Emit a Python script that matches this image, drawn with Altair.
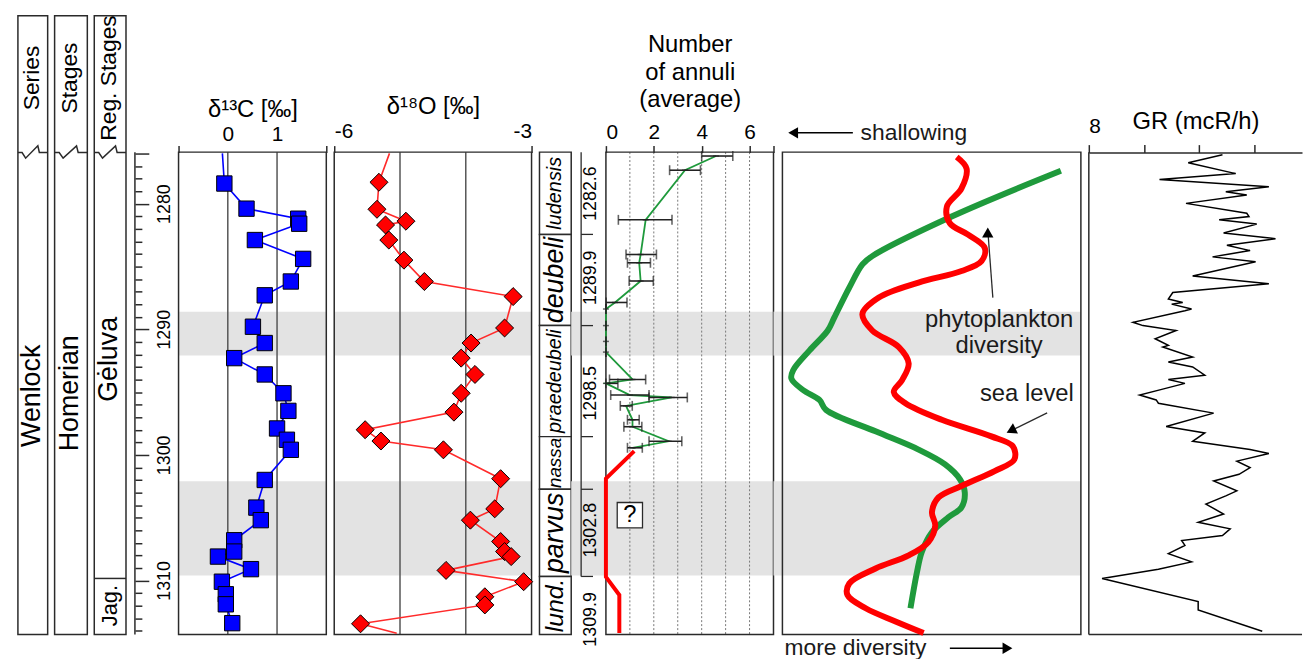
import altair as alt
import pandas as pd

# ------------------------------------------------------------------ data
DEPTH_TICKS = list(range(1276, 1315))

COLUMN_HEADERS = ["Series", "Stages", "Reg. Stages"]
COLUMN_UNITS = ["Wenlock", "Homerian", "Gėluva"]
COLUMN_UNIT_DEPTH = [1295.3, 1295.1, 1292.4]
HEADER_DEPTH = 1270.0
JAG_LABEL = "Jag."
JAG_TOP = 1309.84
JAG_LABEL_DEPTH = 1312.0

BAND_TOP = [1288.6, 1302.1]
BAND_BOTTOM = [1292.1, 1309.6]

C13_DEPTH = [1278.4, 1280.4, 1281.2, 1281.6, 1282.9, 1284.4, 1286.2, 1287.3, 1289.8, 1291.1,
             1292.3, 1293.6, 1295.1, 1296.5, 1297.9, 1298.8, 1299.6, 1302.0, 1304.2, 1305.2,
             1306.8, 1307.7, 1308.1, 1309.1, 1310.1, 1311.1, 1311.9, 1313.4]
C13_VALUE = [-0.07, 0.38, 1.43, 1.45, 0.55, 1.53, 1.28, 0.75, 0.51, 0.75,
             0.13, 0.75, 1.13, 1.23, 1.0, 1.2, 1.28, 0.75, 0.58, 0.67,
             0.13, 0.13, -0.2, 0.47, -0.12, -0.04, -0.04, 0.09]
C13_TRACE_START = (-0.11, 1276.0)

O18_DEPTH = [1278.3, 1280.45, 1281.4, 1281.7, 1282.9, 1284.5, 1286.2, 1287.4, 1289.9, 1291.1,
             1292.3, 1293.6, 1295.1, 1296.6, 1298.0, 1298.9, 1299.6, 1301.9, 1304.3, 1305.2,
             1306.9, 1307.7, 1308.1, 1309.2, 1310.1, 1311.3, 1311.95, 1313.45]
O18_VALUE = [-5.32, -5.35, -4.91, -5.22, -5.17, -4.94, -4.63, -3.28, -3.41, -3.92,
             -4.07, -3.86, -4.07, -4.18, -5.53, -5.29, -4.34, -3.47, -3.56, -3.93,
             -3.47, -3.41, -3.31, -4.30, -3.12, -3.71, -3.71, -5.60]
O18_TRACE_START = (-5.16, 1276.0)
O18_TRACE_END = (-5.05, 1314.2)

ZONES = ["ludensis", "deubeli", "praedeubeli", "nassa", "parvus", "lund."]
ZONE_TOP = [1275.9, 1282.45, 1289.71, 1298.55, 1302.74, 1309.68]
ZONE_BOTTOM = [1282.45, 1289.71, 1298.55, 1302.74, 1309.68, 1314.3]
ZONE_FONT = [20, 27, 20, 19, 27, 25]

BOUNDARY_LABELS = ["1282.6", "1289.9", "1298.5", "1302.8", "1309.9"]
BOUNDARY_DEPTH = [1282.45, 1289.71, 1298.55, 1302.74, 1309.68]
BOUNDARY_LABEL_DEPTH = [1279.2, 1285.9, 1295.1, 1306.0, 1313.1]

ANN_DEPTH = [1276.21, 1277.34, 1281.29, 1284.05, 1284.71, 1286.16, 1287.87, 1288.39, 1289.71, 1290.97,
             1291.82, 1294.0, 1294.31, 1295.24, 1295.43, 1296.1, 1297.21, 1297.76, 1298.92, 1299.44]
ANN_MEAN = [4.6, 3.3, 1.66, 1.45, 1.39, 1.45, 0.38, 0.0, 0.0, 0.0,
            0.0, 1.11, 0.0, 1.0, 2.75, 0.84, 1.11, 1.11, 2.62, 1.11]
ANN_LOW = [4.0, 2.66, 0.52, 0.84, 0.9, 0.97, 0.01, 0.0, 0.0, 0.0,
           0.0, 0.15, 0.0, 0.2, 1.8, 0.6, 0.9, 0.75, 1.8, 0.9]
ANN_HIGH = [5.3, 3.95, 2.76, 2.11, 1.86, 1.98, 0.88, 0.0, 0.0, 0.0,
            0.0, 1.66, 0.5, 1.8, 3.4, 1.1, 1.39, 1.5, 3.17, 1.52]
ANN_RED_DEPTH = [1299.71, 1301.89, 1309.71, 1311.16, 1314.18]
ANN_RED_VALUE = [1.18, 0.0, 0.0, 0.56, 0.56]
UNKNOWN_MARK = ("?", 1.0, 1304.8)

DIV_GREEN_X = [93.3, 56.7, 30.1, 26.8, 22.4, 17.4, 15.2, 9.1, 3.6, 3.0, 6.9, 12.4,
               14.6, 31.2, 45.6, 54.5, 59.5, 61.1, 60.0, 55.6, 50.1, 46.7, 45.1, 42.9]
DIV_GREEN_DEPTH = [1277.39, 1281.03, 1284.18, 1284.84, 1286.69, 1289.06, 1290.1, 1291.68, 1293.26,
                   1293.92, 1294.84, 1295.63, 1296.42, 1298.13, 1299.58, 1300.76, 1301.95, 1303.0,
                   1304.18, 1304.97, 1306.16, 1307.73, 1309.31, 1312.21]
DIV_RED_X = [58.4, 61.7, 60.0, 55.1, 56.1, 62.2, 67.8, 66.7, 60.0, 45.6,
             32.3, 26.8, 30.1, 39.0, 42.3, 40.1, 37.3, 41.2, 53.4, 70.0,
             77.2, 77.7, 71.1, 60.0, 52.3, 50.1, 51.2, 48.9, 42.3, 31.2,
             22.4, 21.8, 27.9, 37.9, 47.3]
DIV_RED_DEPTH = [1276.29, 1277.21, 1278.79, 1280.24, 1281.56, 1282.47, 1283.53, 1284.58, 1285.37, 1286.29,
                 1287.48, 1288.79, 1290.1, 1291.42, 1292.73, 1294.05, 1295.0, 1295.89, 1297.21, 1298.53,
                 1299.32, 1300.37, 1301.29, 1302.48, 1303.39, 1304.58, 1305.63, 1306.94, 1308.0, 1309.05,
                 1310.24, 1311.16, 1312.21, 1313.26, 1314.18]

GR_DEPTH = [1276.11, 1276.74, 1277.61, 1278.08, 1278.66, 1279.05, 1279.31, 1279.98, 1280.77, 1281.03,
            1281.29, 1281.63, 1282.34, 1282.79, 1283.32, 1283.74, 1284.24, 1284.63, 1285.76, 1286.37,
            1287.08, 1287.6, 1287.87, 1288.0, 1288.39, 1288.53, 1289.45, 1289.71, 1290.1, 1290.76,
            1291.29, 1291.42, 1292.21, 1292.61, 1293.0, 1293.66, 1294.0, 1294.31, 1294.79, 1295.24,
            1295.63, 1295.89, 1296.68, 1297.74, 1298.26, 1298.92, 1299.58, 1299.89, 1300.5, 1301.02,
            1301.55, 1302.08, 1302.87, 1303.27, 1303.92, 1304.71, 1305.37, 1305.89, 1306.42, 1306.82,
            1307.21, 1307.87, 1308.52, 1309.11, 1309.84, 1311.68, 1312.34, 1314.05]
GR_VALUE = [9.21, 8.90, 9.33, 8.64, 9.63, 9.24, 9.43, 8.88, 9.43, 9.45,
            9.18, 9.52, 9.22, 9.69, 9.25, 9.46, 9.12, 9.51, 8.94, 9.63,
            8.76, 8.72, 8.85, 8.75, 8.93, 8.87, 8.40, 8.49, 8.79, 8.60,
            8.72, 8.67, 8.94, 8.72, 8.94, 9.05, 8.72, 8.87, 8.66, 8.46,
            8.61, 8.63, 9.13, 8.70, 9.05, 8.94, 9.46, 9.63, 9.34, 9.46,
            9.36, 9.13, 9.34, 9.24, 9.06, 9.22, 8.99, 9.28, 9.21, 8.84,
            8.87, 8.72, 8.93, 8.63, 8.12, 8.99, 8.99, 9.57]

# ------------------------------------------------------------------ style
FONT = "Liberation Sans"
INK = "#2a2a2a"
GRID = "#555555"
BAND = "#e3e3e3"
BLUE = "#0000ff"
RED = "#ff0000"
GREEN = "#1f9a3c"
VIEW_H = 624
DEPTH_DOMAIN = [1265.04, 1314.3]
LOG_TOP, LOG_BOTTOM = 1275.9, 1314.3
BREAK_X = [0.0, 0.14, 0.26, 0.67, 0.72, 1.0]
BREAK_DEPTH = [1275.93, 1275.93, 1276.38, 1275.4, 1275.93, 1275.93]


def Y(field, axis=None):
    return alt.Y(f"{field}:Q", scale=alt.Scale(domain=DEPTH_DOMAIN, reverse=True, nice=False, zero=False),
                 axis=axis)


def make_x(domain, axis=None):
    sc = alt.Scale(domain=domain, nice=False, zero=False)

    def X(field):
        return alt.X(f"{field}:Q", scale=sc, axis=axis)
    return X


def rect_layer(X, a, b, t, u, **mark):
    df = pd.DataFrame({"a": a, "b": b, "t": t, "u": u})
    return alt.Chart(df).mark_rect(**mark).encode(x=X("a"), x2="b", y=Y("t"), y2="u")


def band_layer(X, xmin, xmax):
    n = len(BAND_TOP)
    return rect_layer(X, [xmin] * n, [xmax] * n, BAND_TOP, BAND_BOTTOM, color=BAND)


def frame_layer(X, xmin, xmax, top=LOG_TOP, bottom=LOG_BOTTOM):
    return rect_layer(X, [xmin], [xmax], [top], [bottom], fillOpacity=0, stroke=INK, strokeWidth=1.5)


def rule_layer(X, a, b, t, u, **mark):
    df = pd.DataFrame({"a": a, "b": b, "t": t, "u": u})
    return alt.Chart(df).mark_rule(**mark).encode(x=X("a"), x2="b", y=Y("t"), y2="u")


def text_layer(X, xs, depths, labels, **mark):
    df = pd.DataFrame({"a": xs, "t": depths, "s": labels})
    return alt.Chart(df).mark_text(**mark).encode(x=X("a"), y=Y("t"), text="s:N")


def line_layer(X, xs, depths, **mark):
    df = pd.DataFrame({"a": xs, "t": depths, "i": list(range(len(xs)))})
    return alt.Chart(df).mark_line(**mark).encode(x=X("a"), y=Y("t"), order="i:Q")


def point_layer(X, xs, depths, **mark):
    df = pd.DataFrame({"a": xs, "t": depths})
    return alt.Chart(df).mark_point(**mark).encode(x=X("a"), y=Y("t"))


def tick_layer(X, xs, depths, **mark):
    df = pd.DataFrame({"a": xs, "t": depths})
    return alt.Chart(df).mark_tick(**mark).encode(x=X("a"), y=Y("t"))


def top_axis(title, values, label_expr, tick_size, label_padding, domain=False, **kw):
    return alt.Axis(orient="top", offset=-138, values=values, labelExpr=label_expr,
                    tickSize=tick_size, tickColor=INK, tickWidth=1.5, domain=domain,
                    domainColor=INK, domainWidth=1.5, grid=False,
                    labelFontSize=21, labelColor="black", labelPadding=label_padding,
                    title=title, titleFontSize=24, titleFontWeight="normal", titleColor="black", **kw)


def spacer(width, with_bands=False):
    X = make_x([0, 1])
    layers = [point_layer(X, [0], [LOG_TOP], opacity=0)]
    if with_bands:
        layers.insert(0, band_layer(X, 0, 1))
    return alt.layer(*layers).properties(width=width, height=VIEW_H)


def strat_column(width, idx, extra=False):
    X = make_x([0, 1])
    layers = [
        frame_layer(X, 0, 1, DEPTH_DOMAIN[0], DEPTH_DOMAIN[1]),
        line_layer(X, BREAK_X, BREAK_DEPTH, color=INK, strokeWidth=1.5),
        text_layer(X, [0.47], [HEADER_DEPTH], [COLUMN_HEADERS[idx]], angle=270, fontSize=23,
                   color="black", align="center", baseline="middle"),
        text_layer(X, [0.47], [COLUMN_UNIT_DEPTH[idx]], [COLUMN_UNITS[idx]], angle=270, fontSize=27,
                   color="black", align="center", baseline="middle"),
    ]
    if extra:
        layers.append(rule_layer(X, [0], [1], [JAG_TOP], [JAG_TOP], color=INK, strokeWidth=1.5))
        layers.append(text_layer(X, [0.5], [JAG_LABEL_DEPTH], [JAG_LABEL], angle=270, fontSize=22,
                                 color="black", align="center", baseline="middle"))
    return alt.layer(*layers).properties(width=width, height=VIEW_H)


# ------------------------------------------------------------------ depth axis
depth_axis = alt.Axis(
    orient="right", values=DEPTH_TICKS,
    labelExpr="datum.value % 10 === 0 ? '' + datum.value : ''",
    tickSize={"condition": {"test": "datum.value % 10 === 0 || datum.value === 1276", "value": 14}, "value": 7},
    tickColor=INK, tickWidth=1.5, domain=False, grid=False,
    labelAngle=270, labelAlign="center", labelBaseline="top", labelPadding=7,
    labelFontSize=18, labelColor="black", title="")
Xd = make_x([0, 1])
depth_df = pd.DataFrame({"a": [1], "t": [LOG_TOP], "u": [LOG_BOTTOM]})
depth_view = alt.Chart(depth_df).mark_rule(color=INK, strokeWidth=1.5).encode(
    x=Xd("a"), y=Y("t", axis=depth_axis), y2="u").properties(width=7, height=VIEW_H)

# ------------------------------------------------------------------ d13C
X13 = make_x([-1, 2], top_axis(
    "δ¹³C [‰]", [-1, 0, 1, 2], "(datum.value == 0 || datum.value == 1) ? datum.label : ''",
    {"condition": {"test": "datum.value == 0 || datum.value == 1", "value": 0}, "value": 7}, 8,
    titlePadding=2))
c13_view = alt.layer(
    band_layer(X13, -1, 2),
    rule_layer(X13, [0, 1], [0, 1], [LOG_TOP] * 2, [LOG_BOTTOM] * 2, color=GRID, strokeWidth=1.5),
    frame_layer(X13, -1, 2),
    line_layer(X13, [C13_TRACE_START[0]] + C13_VALUE, [C13_TRACE_START[1]] + C13_DEPTH,
               color=BLUE, strokeWidth=1.6),
    point_layer(X13, C13_VALUE, C13_DEPTH, shape="square", size=240, filled=True, fill=BLUE,
                stroke="black", strokeWidth=1, opacity=1),
).properties(width=149, height=VIEW_H)

# ------------------------------------------------------------------ d18O
X18 = make_x([-6, -3], top_axis(
    "δ¹⁸O [‰]", [-6, -5, -4, -3], "datum.value == -6 ? '-6' : (datum.value == -3 ? '-3' : '')",
    {"condition": {"test": "datum.value == -6 || datum.value == -3", "value": 7}, "value": 0}, 4,
    labelFlush=True, titlePadding=2))
o18_view = alt.layer(
    band_layer(X18, -6, -3),
    rule_layer(X18, [-5, -4], [-5, -4], [LOG_TOP] * 2, [LOG_BOTTOM] * 2, color=GRID, strokeWidth=1.5),
    frame_layer(X18, -6, -3),
    line_layer(X18, [O18_TRACE_START[0]] + O18_VALUE + [O18_TRACE_END[0]],
               [O18_TRACE_START[1]] + O18_DEPTH + [O18_TRACE_END[1]], color="#ff2a2a", strokeWidth=1.6),
    point_layer(X18, O18_VALUE, O18_DEPTH, shape="diamond", size=330, filled=True, fill=RED,
                stroke="black", strokeWidth=1, opacity=1),
).properties(width=199, height=VIEW_H)

# ------------------------------------------------------------------ zones
Xz = make_x([0, 1])
zone_df = pd.DataFrame({"a": [0.5] * len(ZONES), "t": [(a + b) / 2 for a, b in zip(ZONE_TOP, ZONE_BOTTOM)],
                        "s": ZONES, "fs": ZONE_FONT})
zone_view = alt.layer(
    rect_layer(Xz, [0] * len(ZONES), [1] * len(ZONES), ZONE_TOP, ZONE_BOTTOM, fill="white",
               stroke=INK, strokeWidth=1.5),
    alt.Chart(zone_df).mark_text(angle=270, fontStyle="italic", color="black", align="center",
                                 baseline="middle").encode(
        x=Xz("a"), y=Y("t"), text="s:N", size=alt.Size("fs:Q", scale=None, legend=None)),
).properties(width=32, height=VIEW_H)

# ------------------------------------------------------------------ boundary labels
Xl = make_x([0, 35])
nb = len(BOUNDARY_DEPTH)
label_view = alt.layer(
    band_layer(Xl, 0, 35),
    rule_layer(Xl, [10], [10], [LOG_TOP], [BOUNDARY_DEPTH[-1]], color=INK, strokeWidth=1.3),
    rule_layer(Xl, [10] * nb, [22] * nb, BOUNDARY_DEPTH, BOUNDARY_DEPTH, color=INK, strokeWidth=1.3),
    text_layer(Xl, [20] * nb, BOUNDARY_LABEL_DEPTH, BOUNDARY_LABELS, angle=270, fontSize=18,
               color="black", align="center", baseline="middle"),
).properties(width=35, height=VIEW_H)

# ------------------------------------------------------------------ annuli
Xa = make_x([0, 7], top_axis(
    ["Number", "of annuli", "(average)"], [0, 2, 4, 6, 7], "datum.value == 7 ? '' : datum.label",
    7, 3, titlePadding=10, titleLineHeight=28))
grid_vals = [1, 2, 3, 4, 5, 6]
annuli_view = alt.layer(
    band_layer(Xa, 0, 7),
    rule_layer(Xa, grid_vals, grid_vals, [LOG_TOP] * 6, [LOG_BOTTOM] * 6, color="#777777",
               strokeWidth=1, strokeDash=[2, 2]),
    frame_layer(Xa, 0, 7),
    line_layer(Xa, ANN_RED_VALUE, ANN_RED_DEPTH, color=RED, strokeWidth=4),
    line_layer(Xa, ANN_MEAN, ANN_DEPTH, color=GREEN, strokeWidth=1.8),
    rule_layer(Xa, ANN_LOW, ANN_HIGH, ANN_DEPTH, ANN_DEPTH, color="#222222", strokeWidth=1.6),
    tick_layer(Xa, ANN_LOW, ANN_DEPTH, orient="vertical", size=10, thickness=1.6, color="#222222"),
    tick_layer(Xa, ANN_HIGH, ANN_DEPTH, orient="vertical", size=10, thickness=1.6, color="#222222"),
    tick_layer(Xa, ANN_MEAN, ANN_DEPTH, orient="horizontal", size=6, thickness=1.5, color="#222222"),
    point_layer(Xa, [UNKNOWN_MARK[1]], [UNKNOWN_MARK[2]], shape="square", size=650, filled=True,
                fill="white", stroke=INK, strokeWidth=1.3, opacity=1),
    text_layer(Xa, [UNKNOWN_MARK[1]], [UNKNOWN_MARK[2]], [UNKNOWN_MARK[0]], fontSize=24,
               color="black", align="center", baseline="middle"),
).properties(width=169, height=VIEW_H)

# ------------------------------------------------------------------ diversity / sea level
Xv = make_x([0, 100])
div_view = alt.layer(
    band_layer(Xv, 0, 100),
    frame_layer(Xv, 0, 100),
    line_layer(Xv, DIV_GREEN_X, DIV_GREEN_DEPTH, color=GREEN, strokeWidth=6, interpolate="catmull-rom"),
    line_layer(Xv, DIV_RED_X, DIV_RED_DEPTH, color=RED, strokeWidth=6, interpolate="catmull-rom"),
    # phytoplankton arrow
    rule_layer(Xv, [70.5], [68.9], [1287.48], [1282.4], color=INK, strokeWidth=1.3),
    point_layer(Xv, [68.8], [1282.3], shape="triangle-up", size=130, filled=True, color="black", opacity=1),
    text_layer(Xv, [72.6, 72.6], [1289.3, 1291.3], ["phytoplankton", "diversity"], fontSize=24,
               color="#1a1a1a", align="center", baseline="middle"),
    # sea level arrow
    rule_layer(Xv, [88.7], [76.6], [1296.66], [1298.07], color=INK, strokeWidth=1.3),
    point_layer(Xv, [76.6], [1298.07], shape="triangle-up", size=130, angle=244, filled=True,
                color="black", opacity=1),
    text_layer(Xv, [81.9], [1295.16], ["sea level"], fontSize=24, color="#1a1a1a", align="center",
               baseline="middle"),
    # shallowing / more diversity
    rule_layer(Xv, [3.5], [23.6], [1274.36], [1274.36], color="black", strokeWidth=1.5),
    point_layer(Xv, [3.6], [1274.36], shape="triangle-left", size=130, filled=True, color="black", opacity=1),
    text_layer(Xv, [26.2], [1274.36], ["shallowing"], fontSize=23, color="#1a1a1a", align="left",
               baseline="middle"),
    text_layer(Xv, [0.7], [1315.4], ["more diversity"], fontSize=23, color="#1a1a1a", align="left",
               baseline="middle"),
    rule_layer(Xv, [56.1], [75.5], [1315.4], [1315.4], color="black", strokeWidth=1.5),
    point_layer(Xv, [75.4], [1315.4], shape="triangle-right", size=130, filled=True, color="black", opacity=1),
).properties(width=301, height=VIEW_H)

# ------------------------------------------------------------------ GR
GR_MAX = 9.93
Xg = make_x([8, GR_MAX], top_axis(
    "GR (mcR/h)", [8, 8.5, 9, 9.5], "datum.value == 8 ? '8' : ''", 8, 8, domain=True,
    labelFlush=True, titleY=-31, titleBaseline="middle"))
gr_view = alt.layer(
    rule_layer(Xg, [8], [8], [LOG_TOP], [LOG_BOTTOM], color=INK, strokeWidth=1.5),
    rule_layer(Xg, [8], [GR_MAX], [LOG_BOTTOM], [LOG_BOTTOM], color=INK, strokeWidth=1.5),
    line_layer(Xg, GR_VALUE, GR_DEPTH, color="black", strokeWidth=1.5),
).properties(width=215, height=VIEW_H)

# ------------------------------------------------------------------ assemble
chart = alt.hconcat(
    strat_column(30, 0), spacer(7),
    strat_column(33, 1), spacer(7),
    strat_column(32, 2, extra=True), spacer(2),
    depth_view, spacer(44),
    c13_view, spacer(8),
    o18_view, spacer(8),
    zone_view, label_view, annuli_view, spacer(9, with_bands=True),
    div_view, spacer(8),
    gr_view,
    spacing=0, bounds="flush",
).properties(
    padding={"left": 7, "top": 4, "right": 0, "bottom": 0}, background="white"
).configure(font=FONT).configure_view(strokeWidth=0).configure_axis(labelFont=FONT, titleFont=FONT)

chart.save("out.html", embed_options={"renderer": "svg", "actions": False})
